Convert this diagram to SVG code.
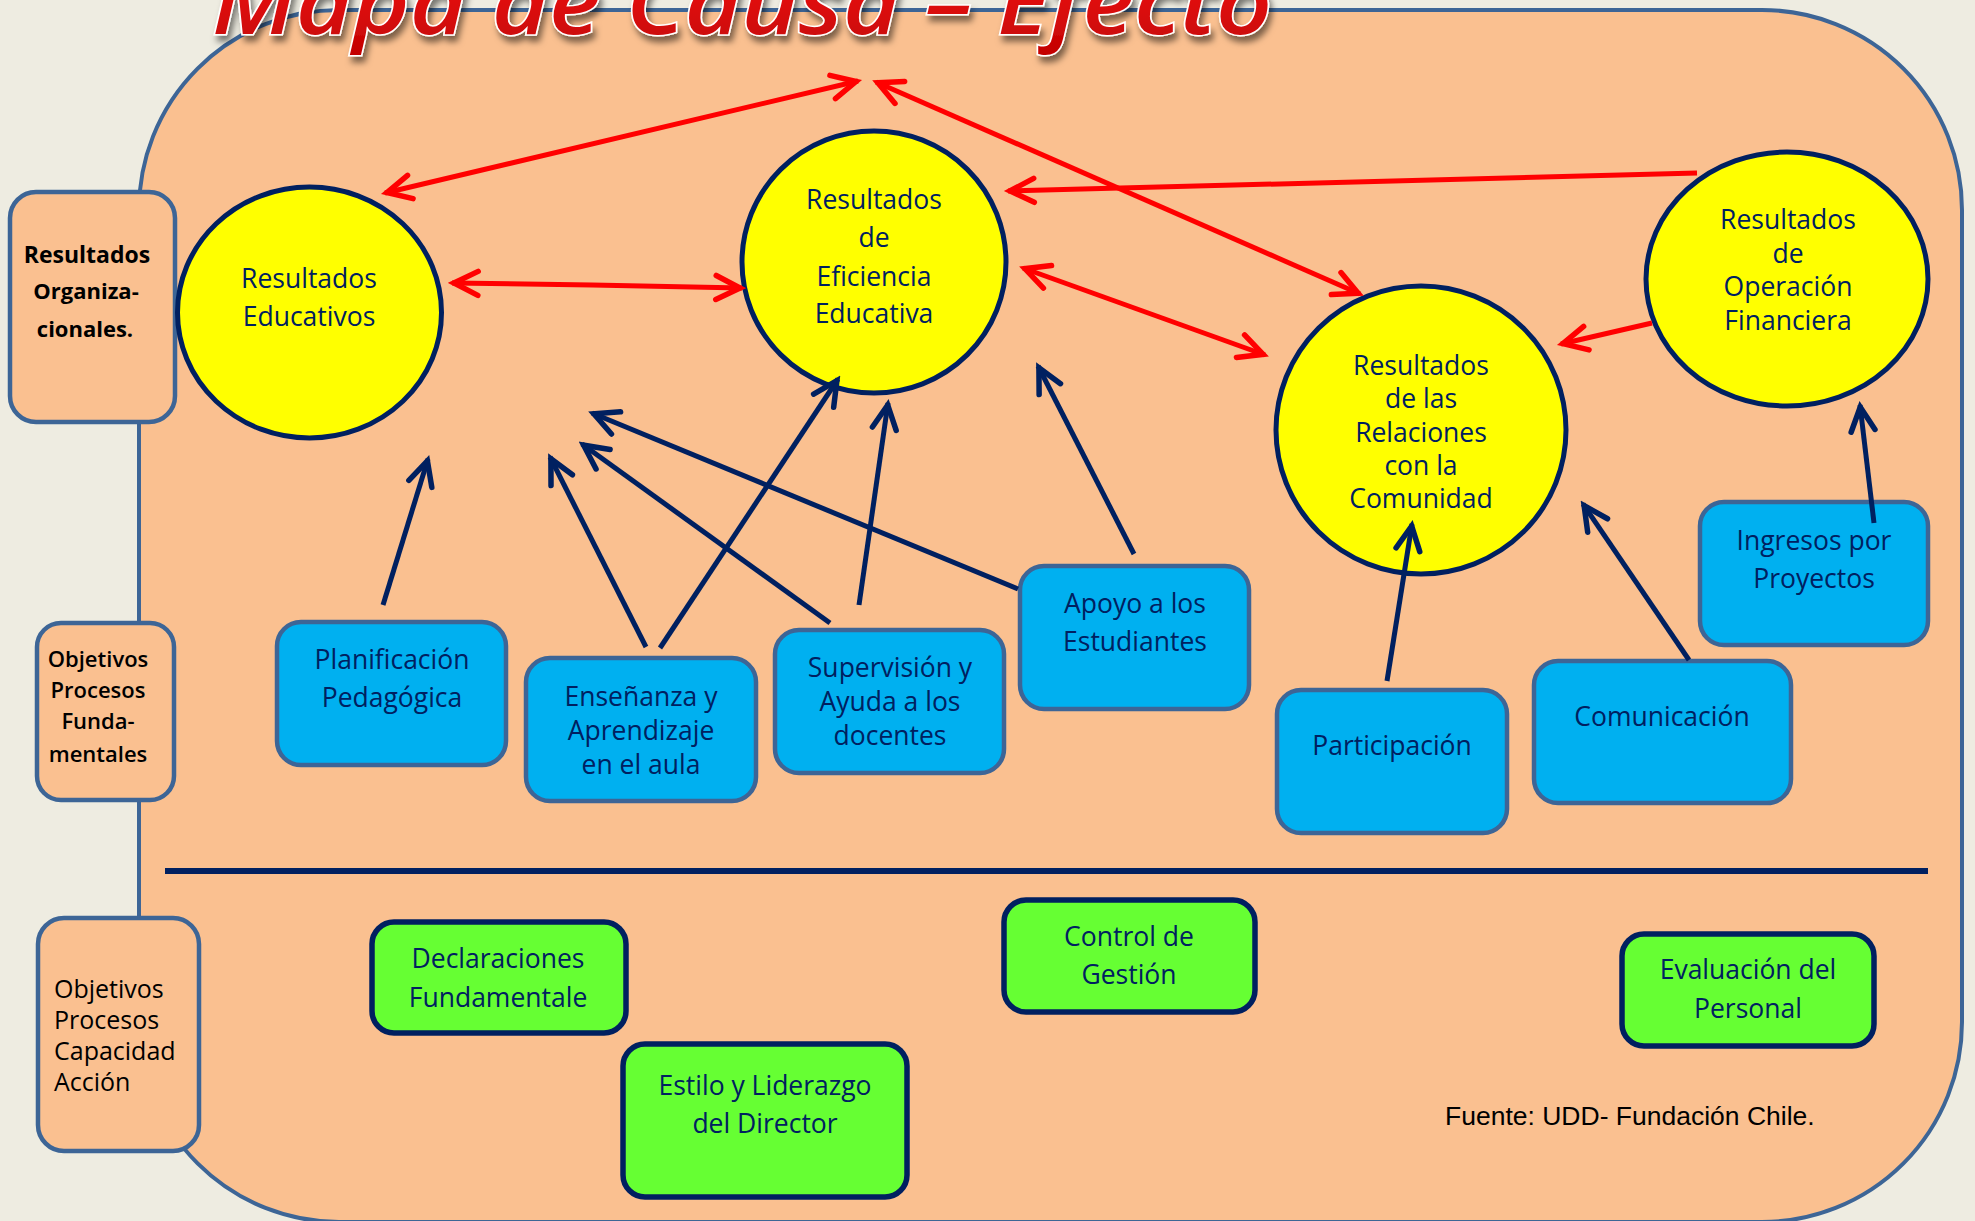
<svg xmlns="http://www.w3.org/2000/svg" width="1975" height="1221" viewBox="0 0 1975 1221">
<style>
.main{fill:#FAC090;stroke:#3D6596;stroke-width:4}
.lbl{fill:#FAC090;stroke:#3D6596;stroke-width:4.5}
.circ{fill:#FFFF00;stroke:#002060;stroke-width:5}
.blue{fill:#00B0F0;stroke:#3D6596;stroke-width:4.5}
.green{fill:#66FF33;stroke:#002060;stroke-width:5.5}
.t{font-family:"Open Sans","Noto Sans",sans-serif;font-size:26.5px;fill:#002060;text-anchor:middle}
.k{font-family:"Open Sans","Noto Sans",sans-serif;fill:#000000}
.red{stroke:#FF0000;stroke-width:5;fill:none;marker-end:url(#mr)}
.navy{stroke:#002060;stroke-width:5;fill:none;marker-end:url(#mn)}
.both{marker-start:url(#mr)}
</style>
<defs>
<marker id="mr" markerUnits="userSpaceOnUse" viewBox="-34 -20 40 40" refX="2" refY="0" markerWidth="40" markerHeight="40" orient="auto-start-reverse">
<path d="M-24,-12 L0,0 L-24,12" fill="none" stroke="#FF0000" stroke-width="5.5" stroke-linecap="round" stroke-linejoin="miter"/>
</marker>
<marker id="mn" markerUnits="userSpaceOnUse" viewBox="-34 -20 40 40" refX="2" refY="0" markerWidth="40" markerHeight="40" orient="auto-start-reverse">
<path d="M-24,-12 L0,0 L-24,12" fill="none" stroke="#002060" stroke-width="5.5" stroke-linecap="round" stroke-linejoin="miter"/>
</marker>
<linearGradient id="tg" x1="0" y1="0" x2="0" y2="1">
<stop offset="0" stop-color="#FF2020"/>
<stop offset="1" stop-color="#C00000"/>
</linearGradient>
<filter id="sh" x="-5%" y="-50%" width="110%" height="200%">
<feDropShadow dx="3" dy="6" stdDeviation="3" flood-color="#000000" flood-opacity="0.5"/>
</filter>
</defs>

<rect x="0" y="0" width="1975" height="1221" fill="#EEECE1"/>
<rect class="main" x="139" y="10" width="1823" height="1212" rx="200" ry="200"/>

<text x="212" y="34" font-family="'Open Sans','Noto Sans',sans-serif" font-style="italic" font-weight="600" font-size="88" textLength="1060" lengthAdjust="spacingAndGlyphs" fill="url(#tg)" stroke="#FFFFFF" stroke-width="3" paint-order="stroke" filter="url(#sh)">Mapa de Causa – Efecto</text>

<line x1="165" y1="871" x2="1928" y2="871" stroke="#002060" stroke-width="6"/>

<g id="lbl-resultados">
<rect class="lbl" x="10" y="192" width="165" height="230" rx="26"/>
<text class="k" x="87" y="263" font-size="23" font-weight="700" text-anchor="middle">Resultados</text>
<text class="k" x="86" y="299" font-size="22" font-weight="700" text-anchor="middle">Organiza-</text>
<text class="k" x="85" y="337" font-size="22" font-weight="700" text-anchor="middle">cionales.</text>
</g>
<g id="lbl-procesos">
<rect class="lbl" x="37" y="623" width="137" height="177" rx="24"/>
<text class="k" x="98" y="667" font-size="22" font-weight="600" text-anchor="middle">Objetivos</text>
<text class="k" x="98" y="698" font-size="22" font-weight="600" text-anchor="middle">Procesos</text>
<text class="k" x="98" y="729" font-size="22" font-weight="600" text-anchor="middle">Funda-</text>
<text class="k" x="98" y="762" font-size="22" font-weight="600" text-anchor="middle">mentales</text>
</g>
<g id="lbl-capacidad">
<rect class="lbl" x="38" y="918" width="161" height="233" rx="26"/>
<text class="k" x="54" y="998" font-size="25">Objetivos</text>
<text class="k" x="54" y="1029" font-size="25">Procesos</text>
<text class="k" x="54" y="1060" font-size="25">Capacidad</text>
<text class="k" x="54" y="1091" font-size="25">Acción</text>
</g>

<g id="res-educativos">
<ellipse class="circ" cx="309.5" cy="312.5" rx="132" ry="125.5"/>
<text class="t" x="309" y="288">Resultados</text>
<text class="t" x="309" y="326">Educativos</text>
</g>
<g id="res-eficiencia">
<ellipse class="circ" cx="874" cy="262" rx="132" ry="131"/>
<text class="t" x="874" y="209">Resultados</text>
<text class="t" x="874" y="247">de</text>
<text class="t" x="874" y="286">Eficiencia</text>
<text class="t" x="874" y="323">Educativa</text>
</g>
<g id="res-comunidad">
<ellipse class="circ" cx="1421" cy="430" rx="145" ry="144"/>
<text class="t" x="1421" y="375">Resultados</text>
<text class="t" x="1421" y="408">de las</text>
<text class="t" x="1421" y="442">Relaciones</text>
<text class="t" x="1421" y="475">con la</text>
<text class="t" x="1421" y="508">Comunidad</text>
</g>
<g id="res-financiera">
<ellipse class="circ" cx="1787" cy="279" rx="141" ry="127"/>
<text class="t" x="1788" y="229">Resultados</text>
<text class="t" x="1788" y="263">de</text>
<text class="t" x="1788" y="296">Operación</text>
<text class="t" x="1788" y="330">Financiera</text>
</g>

<g id="planificacion">
<rect class="blue" x="277" y="622" width="229" height="143" rx="24"/>
<text class="t" x="392" y="669">Planificación</text>
<text class="t" x="392" y="707">Pedagógica</text>
</g>
<g id="ensenanza">
<rect class="blue" x="526" y="658" width="230" height="143" rx="24"/>
<text class="t" x="641" y="706">Enseñanza y</text>
<text class="t" x="641" y="740">Aprendizaje</text>
<text class="t" x="641" y="774">en el aula</text>
</g>
<g id="supervision">
<rect class="blue" x="775" y="630" width="229" height="143" rx="24"/>
<text class="t" x="890" y="677">Supervisión y</text>
<text class="t" x="890" y="711">Ayuda a los</text>
<text class="t" x="890" y="745">docentes</text>
</g>
<g id="apoyo">
<rect class="blue" x="1020" y="566" width="229" height="143" rx="24"/>
<text class="t" x="1135" y="613">Apoyo a los</text>
<text class="t" x="1135" y="651">Estudiantes</text>
</g>
<g id="participacion">
<rect class="blue" x="1277" y="690" width="230" height="143" rx="24"/>
<text class="t" x="1392" y="755">Participación</text>
</g>
<g id="comunicacion">
<rect class="blue" x="1534" y="661" width="257" height="142" rx="24"/>
<text class="t" x="1662" y="726">Comunicación</text>
</g>
<g id="ingresos">
<rect class="blue" x="1700" y="502" width="228" height="143" rx="24"/>
<text class="t" x="1814" y="550">Ingresos por</text>
<text class="t" x="1814" y="588">Proyectos</text>
</g>

<g id="declaraciones">
<rect class="green" x="372" y="922" width="254" height="111" rx="22"/>
<text class="t" x="498" y="968">Declaraciones</text>
<text class="t" x="498" y="1007">Fundamentale</text>
</g>
<g id="estilo">
<rect class="green" x="623" y="1044" width="284" height="153" rx="22"/>
<text class="t" x="765" y="1095">Estilo y Liderazgo</text>
<text class="t" x="765" y="1133">del Director</text>
</g>
<g id="control">
<rect class="green" x="1004" y="900" width="251" height="112" rx="22"/>
<text class="t" x="1129" y="946">Control de</text>
<text class="t" x="1129" y="984">Gestión</text>
</g>
<g id="evaluacion">
<rect class="green" x="1622" y="934" width="252" height="112" rx="22"/>
<text class="t" x="1748" y="979">Evaluación del</text>
<text class="t" x="1748" y="1018">Personal</text>
</g>

<g id="connectors">
<path class="red both" d="M858,81 L385,193"/>
<path class="red both" d="M876,82 L1360,294"/>
<path class="red both" d="M452,283 L592,285 L742,288"/>
<path class="red both" d="M1023,268 L1265,355"/>
<path class="red" d="M1697,173 L1008,191"/>
<path class="red" d="M1652,323 L1561,344"/>
<path class="navy" d="M383,605 L428,459"/>
<path class="navy" d="M646,647 L550,457"/>
<path class="navy" d="M660,648 L838,379"/>
<path class="navy" d="M830,623 L582,444"/>
<path class="navy" d="M859,605 L888,403"/>
<path class="navy" d="M1018,589 L592,413" stroke-width="7"/>
<path class="navy" d="M1134,554 L1038,366"/>
<path class="navy" d="M1387,681 L1412,524"/>
<path class="navy" d="M1689,660 L1583,504"/>
<path class="navy" d="M1874,523 L1860,405"/>
</g>

<text x="1445" y="1125" font-family="'Liberation Sans',Arial,sans-serif" font-size="26.5" fill="#000000">Fuente: UDD- Fundación Chile.</text>
</svg>
